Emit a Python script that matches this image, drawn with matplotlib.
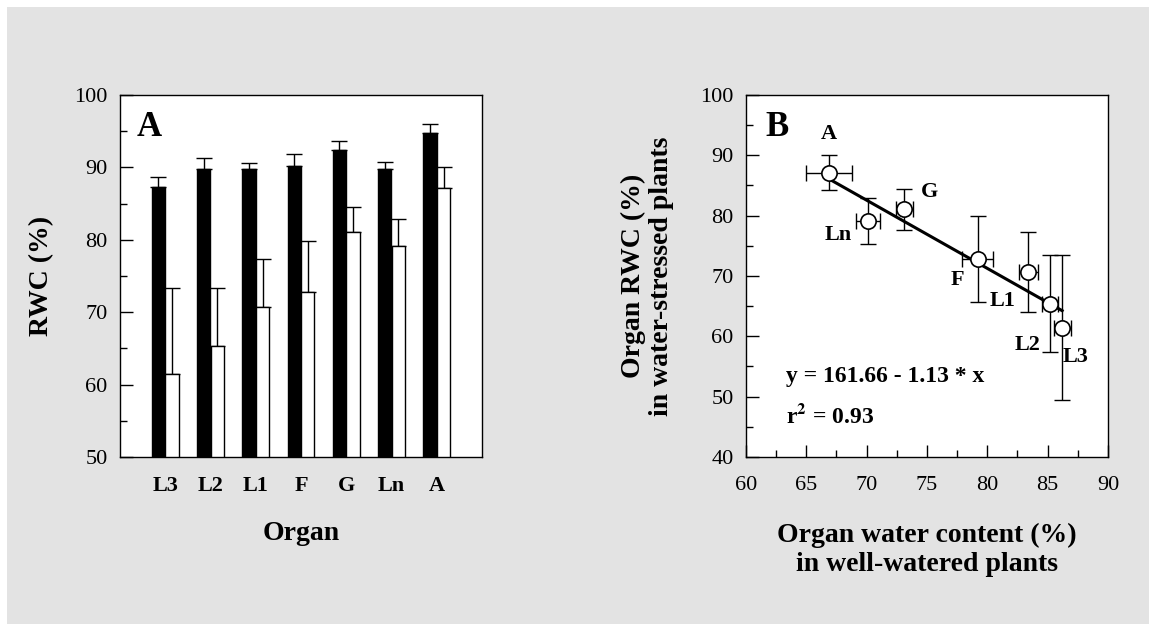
import matplotlib
matplotlib.use('Agg')
import matplotlib.pyplot as plt
from matplotlib.patches import Rectangle
from matplotlib.ticker import MultipleLocator
import numpy as np

plt.rcParams['font.family'] = ['Liberation Serif', 'DejaVu Serif']
plt.rcParams['mathtext.fontset'] = 'stix'

# Panel A: RWC by organ (well-watered = black, water-stressed = white)
organs = ['L3', 'L2', 'L1', 'F', 'G', 'Ln', 'A']
rwc_control = [87.3, 89.8, 89.8, 90.2, 92.4, 89.8, 94.7]
rwc_control_err = [1.4, 1.5, 0.8, 1.6, 1.2, 1.0, 1.3]
rwc_stress = [61.4, 65.4, 70.7, 72.8, 81.1, 79.1, 87.1]
rwc_stress_err = [12.0, 8.0, 6.6, 7.1, 3.4, 3.8, 2.9]

# Panel B: water content (well-watered) vs RWC (stressed)
wc_control = [86.2, 85.2, 83.4, 79.2, 73.1, 70.1, 66.9]
wc_control_err = [0.7, 0.65, 0.8, 1.3, 0.7, 1.0, 1.9]
fit_a, fit_b = 161.66, -1.13

W, H = 1149, 624
fig = plt.figure(figsize=(W / 100, H / 100), dpi=100)
fig.patch.set_facecolor('white')
fig.patches.append(Rectangle((7 / W, 0), 1 - 7 / W, 1 - 7 / H, transform=fig.transFigure,
                             facecolor='#e3e3e3', edgecolor='none', zorder=-10))


def px_axes(x0, y0, x1, y1):
    return fig.add_axes([x0 / W, 1 - y1 / H, (x1 - x0) / W, (y1 - y0) / H])


def style(ax):
    for s in ax.spines.values():
        s.set_linewidth(1.0)
    ax.tick_params(which='both', direction='in', labelsize=16, width=1.0, pad=9)
    ax.tick_params(which='major', length=9)
    ax.tick_params(which='minor', length=5)


# ---- panel A ----
axA = px_axes(120, 95, 482, 457)
x = np.arange(1, len(organs) + 1)
bw = 0.29
axA.bar(x - 0.15, rwc_control, bw, color='black', edgecolor='black', lw=1, zorder=2)
axA.bar(x + 0.15, rwc_stress, bw, color='white', edgecolor='black', lw=1, zorder=2)
zeros = np.zeros(len(organs))
axA.errorbar(x - 0.15, rwc_control, yerr=[zeros, rwc_control_err], fmt='none',
             ecolor='black', elinewidth=1, capsize=6, capthick=1, zorder=1)
axA.errorbar(x + 0.15, rwc_stress, yerr=[zeros, rwc_stress_err], fmt='none',
             ecolor='black', elinewidth=1, capsize=6, capthick=1, zorder=1)
axA.set_xlim(0, 8)
axA.set_ylim(50, 100)
style(axA)
axA.yaxis.set_major_locator(MultipleLocator(10))
axA.yaxis.set_minor_locator(MultipleLocator(5))
axA.set_xticks(x)
axA.set_xticklabels(organs, fontweight='bold', fontsize=16)
axA.tick_params(axis='x', length=0, pad=14)
axA.text(0.045, 0.955, 'A', transform=axA.transAxes, fontsize=25, fontweight='bold',
         va='top', ha='left')
fig.text(42 / W, 1 - 276 / H, 'RWC (%)', rotation=90, fontsize=20, fontweight='bold',
         ha='center', va='center')
fig.text(301 / W, 1 - 533 / H, 'Organ', fontsize=20, fontweight='bold',
         ha='center', va='center')

# ---- panel B ----
axB = px_axes(746, 95, 1108, 457)
axB.errorbar(wc_control, rwc_stress, xerr=wc_control_err, yerr=rwc_stress_err, fmt='none',
             ecolor='black', elinewidth=1, capsize=6, capthick=1, zorder=2)
xf = np.array([min(wc_control), max(wc_control)])
axB.plot(xf, fit_a + fit_b * xf, color='black', lw=2.2, zorder=3)
axB.plot(wc_control, rwc_stress, 'o', ms=11, mfc='white', mec='black', mew=1.2, zorder=4)
axB.set_xlim(60, 90)
axB.set_ylim(40, 100)
style(axB)
axB.xaxis.set_major_locator(MultipleLocator(5))
axB.xaxis.set_minor_locator(MultipleLocator(2.5))
axB.yaxis.set_major_locator(MultipleLocator(10))
axB.yaxis.set_minor_locator(MultipleLocator(5))
axB.tick_params(axis='x', pad=14)

label_pos = {'L3': (87.3, 56.6), 'L2': (83.3, 58.5), 'L1': (81.3, 65.9), 'F': (77.5, 69.3),
             'G': (75.2, 84.0), 'Ln': (67.6, 76.8), 'A': (66.9, 93.6)}
for name, (lx, ly) in label_pos.items():
    axB.text(lx, ly, name, fontsize=16, fontweight='bold', ha='center', va='center')

axB.text(0.055, 0.955, 'B', transform=axB.transAxes, fontsize=25, fontweight='bold',
         va='top', ha='left')
axB.text(63.3, 53.3, 'y = 161.66 - 1.13 * x', fontsize=17, fontweight='bold',
         ha='left', va='center')
axB.text(63.3, 46.8, r'r$^{\mathbf{2}}$ = 0.93', fontsize=17, fontweight='bold',
         ha='left', va='center')
fig.text(647 / W, 1 - 276 / H, 'Organ RWC (%)\nin water-stressed plants', rotation=90,
         fontsize=20, fontweight='bold', ha='center', va='center', linespacing=1.15)
fig.text(927 / W, 1 - 550 / H, 'Organ water content (%)\nin well-watered plants',
         fontsize=20, fontweight='bold', ha='center', va='center', linespacing=1.2)

fig.savefig('out.png', dpi=100, facecolor=fig.get_facecolor())
